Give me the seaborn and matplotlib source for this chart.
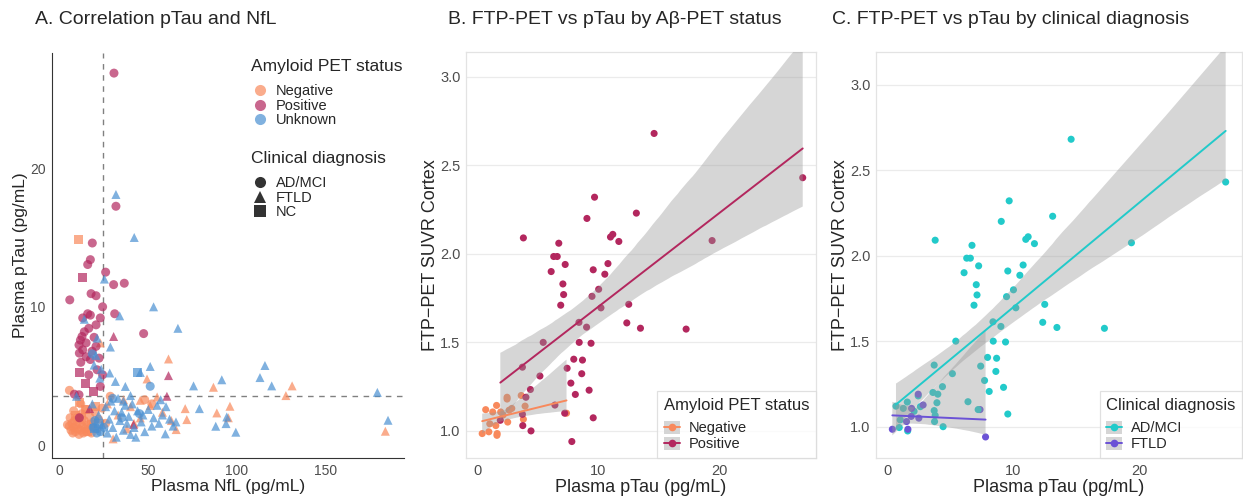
import pandas as pd
import matplotlib
matplotlib.use("Agg")
import matplotlib.pyplot as plt
import seaborn as sns
from matplotlib.lines import Line2D
from matplotlib.patches import Patch

# ---------------- Panel A : NfL vs pTau ----------------
# Negative amyloid
neg_ad_nfl = [5.5, 6.5, 7.0, 7.5, 8.0, 8.5, 9.0, 9.5, 10.0, 10.5, 11.0, 11.5, 12.0, 12.5, 13.0, 13.5, 14.0, 14.5, 15.0, 15.5,
              16.0, 17.0, 17.5, 18.0, 19.0, 20.0, 21.0, 22.0, 6.0, 4.5, 8.0, 5.6, 28.6, 12.0, 26.0, 48.0, 52.0, 24.0]
neg_ad_ptau = [1.4, 1.1, 1.6, 0.9, 1.3, 1.8, 1.0, 1.5, 2.0, 1.2, 0.8, 1.6, 1.1, 2.3, 1.4, 0.9, 1.8, 1.2, 2.6, 1.0,
               1.5, 2.1, 1.3, 0.9, 1.7, 2.4, 1.2, 1.9, 2.0, 1.5, 2.5, 3.98, 3.55, 3.0, 1.6, 3.3, 3.0, 2.7]
neg_ftld_nfl = [61.4, 86.7, 131.0, 127.5, 96.0, 88.6, 95.1, 183.5, 65.7, 70.8, 71.7, 49.3, 45.5, 51.1, 45.5, 30.2, 36.1,
                23.0, 27.0, 33.0, 40.0, 42.0, 55.0, 58.0, 63.0, 38.0]
neg_ftld_ptau = [6.24, 4.2, 4.3, 3.6, 2.83, 2.35, 2.0, 1.03, 1.15, 2.66, 1.87, 4.8, 3.26, 2.88, 1.99, 0.48, 3.3,
                 7.4, 3.0, 2.2, 2.8, 1.6, 3.5, 2.4, 1.8, 1.2]
neg_nc_nfl = [11.0, 11.2, 14.6, 12.5, 16.0, 18.0, 9.0, 20.5]
neg_nc_ptau = [14.85, 3.07, 2.6, 2.0, 1.0, 1.5, 2.2, 2.8]

# Positive amyloid
pos_ad_nfl = [30.7, 31.8, 18.5, 17.4, 15.9, 26.0, 30.5, 36.5, 5.8, 17.8, 20.6, 24.3, 31.1, 15.9, 17.4, 23.0, 13.1, 20.6,
              16.5, 47.4, 12.7, 11.8, 15.0, 20.6, 11.0, 13.1, 18.4, 15.0, 17.4, 22.3, 11.2, 21.2, 24.3, 23.0, 11.0, 11.2,
              8.4, 16.5, 14.0, 19.5, 12.0]
pos_ad_ptau = [26.85, 17.25, 14.6, 13.4, 13.05, 12.5, 11.6, 11.7, 10.5, 10.95, 10.8, 10.0, 9.5, 9.5, 9.4, 9.2, 9.2, 8.7,
               8.45, 8.07, 7.86, 7.6, 7.4, 7.15, 7.25, 6.9, 6.8, 6.4, 6.2, 6.3, 6.66, 5.46, 5.1, 4.26, 3.66, 2.0,
               3.7, 5.1, 8.2, 7.8, 6.0]
pos_nc_nfl = [12.7, 11.4, 14.6, 18.9]
pos_nc_ptau = [12.1, 5.3, 4.5, 3.86]
pos_ftld_nfl = [30.5, 61.4, 60.5, 41.7, 17.0]
pos_ftld_ptau = [7.86, 5.04, 3.55, 1.51, 2.66]

# Unknown amyloid
unk_ftld_nfl = [31.8, 42.1, 25.3, 53.0, 33.9, 66.7, 28.7, 21.2, 14.0, 51.1, 45.5, 75.5, 91.4, 112.9, 115.7, 119.5, 179.0,
                185.0, 31.5, 37.1, 9.6, 22.7, 28.3, 78.8, 88.0, 93.8, 94.2, 99.3, 59.6, 65.6, 20.5, 19.5, 23.5, 18.5,
                22, 24, 26, 27, 28, 29, 30, 31, 32, 33, 34, 35, 36, 37, 38, 39, 40, 41, 42, 43, 44, 46, 47, 48, 50, 52,
                53, 55, 56, 57, 58, 60, 62, 64, 40, 36]
unk_ftld_ptau = [18.1, 15.0, 12.0, 10.0, 9.35, 8.45, 7.1, 7.74, 9.1, 5.7, 5.27, 4.3, 4.74, 4.9, 5.77, 4.3, 3.83,
                 1.82, 4.62, 4.26, 3.55, 4.86, 5.23, 2.66, 1.39, 1.58, 2.06, 0.96, 0.84, 1.7, 6.5, 5.8, 5.5, 3.0,
                 2.2, 1.5, 2.8, 0.9, 1.9, 3.2, 1.3, 2.5, 0.6, 3.4, 1.8, 2.4, 1.1, 2.9, 1.6, 2.1, 0.8, 3.0, 1.3, 0.6,
                 2.5, 1.7, 2.2, 1.0, 2.6, 1.4, 2.0, 2.9, 1.6, 3.3, 2.2, 2.8, 1.9, 1.4, 3.6, 3.2]
unk_ad_nfl = [51.1, 19.0, 21.0, 20.0, 23.0, 25.0, 30.0, 35.0, 45.0, 18.5]
unk_ad_ptau = [4.27, 1.3, 0.9, 1.8, 1.0, 1.3, 3.4, 2.0, 2.3, 6.6]
unk_nc_nfl = [43.7, 20.0, 22.0]
unk_nc_ptau = [5.3, 1.2, 1.6]

# cut-offs (dashed lines)
nfl_cut = 24.5
ptau_cut = 3.6

# ---------------- Panels B / C : pTau vs FTP-PET ----------------
pos_ad_ptau_b = [14.6, 26.9, 19.4, 9.67, 9.04, 13.13, 3.78, 6.71, 6.29, 6.58, 6.08, 7.24, 7.05, 7.11, 6.87, 9.56, 10.78,
                 10.52, 10.99, 11.18, 11.68, 10.01, 9.46, 10.20, 12.50, 12.34, 13.47, 17.25, 8.38, 9.01, 5.42, 8.40,
                 9.38, 7.95, 8.67, 7.40, 8.61, 7.71, 8.08, 9.22, 9.56, 3.70, 5.15, 4.36, 3.99, 6.39, 3.70, 3.73, 4.41, 7.20]
pos_ad_ftp = [2.68, 2.43, 2.075, 2.32, 2.20, 2.23, 2.09, 2.06, 1.985, 1.985, 1.90, 1.94, 1.83, 1.77, 1.71, 1.91, 1.945,
              1.885, 2.095, 2.11, 2.07, 1.80, 1.76, 1.695, 1.715, 1.61, 1.58, 1.575, 1.613, 1.586, 1.50, 1.50,
              1.495, 1.405, 1.40, 1.354, 1.323, 1.27, 1.206, 1.23, 1.074, 1.36, 1.31, 1.234, 1.19, 1.146, 1.094, 1.03, 1.00, 1.10]
neg_ad_ptau_b = [0.66, 0.92, 1.0, 1.24, 1.56, 2.43, 3.6, 3.92, 3.78, 2.1, 2.6, 1.59]
neg_ad_ftp = [1.12, 0.995, 1.04, 1.107, 1.144, 1.18, 1.20, 1.14, 1.066, 1.09, 1.117, 0.975]
neg_ftld_ptau_b = [0.37, 1.61, 1.9, 2.43, 2.82, 1.5, 2.48, 7.35]
neg_ftld_ftp = [0.985, 0.985, 1.107, 1.19, 1.127, 1.03, 1.05, 1.10]
pos_ftld_ptau_b = [1.87, 7.79]
pos_ftld_ftp = [1.06, 0.94]

amy_colors = {"Negative": "#F8895C", "Positive": "#B3275E", "Unknown": "#4A90D2"}
dx_colors = {"AD/MCI": "#22CACA", "FTLD": "#6B52D6"}
dx_markers = {"AD/MCI": "o", "FTLD": "^", "NC": "s"}


def grupo(x, y, amy, dx, xn, yn):
    return pd.DataFrame({xn: x, yn: y, "amyloid": amy, "dx": dx})


df_a = pd.concat([
    grupo(neg_ad_nfl, neg_ad_ptau, "Negative", "AD/MCI", "nfl", "ptau"),
    grupo(neg_ftld_nfl, neg_ftld_ptau, "Negative", "FTLD", "nfl", "ptau"),
    grupo(neg_nc_nfl, neg_nc_ptau, "Negative", "NC", "nfl", "ptau"),
    grupo(pos_ad_nfl, pos_ad_ptau, "Positive", "AD/MCI", "nfl", "ptau"),
    grupo(pos_nc_nfl, pos_nc_ptau, "Positive", "NC", "nfl", "ptau"),
    grupo(pos_ftld_nfl, pos_ftld_ptau, "Positive", "FTLD", "nfl", "ptau"),
    grupo(unk_ftld_nfl, unk_ftld_ptau, "Unknown", "FTLD", "nfl", "ptau"),
    grupo(unk_ad_nfl, unk_ad_ptau, "Unknown", "AD/MCI", "nfl", "ptau"),
    grupo(unk_nc_nfl, unk_nc_ptau, "Unknown", "NC", "nfl", "ptau"),
], ignore_index=True)

df_b = pd.concat([
    grupo(neg_ad_ptau_b, neg_ad_ftp, "Negative", "AD/MCI", "ptau", "ftp"),
    grupo(neg_ftld_ptau_b, neg_ftld_ftp, "Negative", "FTLD", "ptau", "ftp"),
    grupo(pos_ad_ptau_b, pos_ad_ftp, "Positive", "AD/MCI", "ptau", "ftp"),
    grupo(pos_ftld_ptau_b, pos_ftld_ftp, "Positive", "FTLD", "ptau", "ftp"),
], ignore_index=True)

sns.set_style("white")
plt.rcParams["font.family"] = ["Liberation Sans", "DejaVu Sans"]

W, H = 1243, 496
fig = plt.figure(figsize=(W / 100, H / 100), dpi=100)


def box(l, t, r, b):
    return [l / W, 1 - b / H, (r - l) / W, (b - t) / H]


axA = fig.add_axes(box(52, 53, 404, 458))
axB = fig.add_axes(box(466, 52, 816, 458))
axC = fig.add_axes(box(876, 52, 1242, 458))

tick_col = "#4D4D4D"

# ---- A ----
sns.scatterplot(data=df_a, x="nfl", y="ptau", hue="amyloid", style="dx", palette=amy_colors,
                markers=dx_markers, s=42, alpha=0.7, linewidth=0, legend=False, ax=axA)
axA.axvline(nfl_cut, color="#808080", lw=1, ls=(0, (4, 4)), zorder=0)
axA.axhline(ptau_cut, color="#808080", lw=1, ls=(0, (4, 4)), zorder=0)
axA.set_xlim(-4.2, 194)
axA.set_ylim(-0.9, 28.3)
axA.set_xticks([0, 50, 100, 150])
axA.set_yticks([0, 10, 20])
for s in ["top", "right"]:
    axA.spines[s].set_visible(False)
for s in ["left", "bottom"]:
    axA.spines[s].set_color("#333333")
    axA.spines[s].set_linewidth(0.8)
axA.tick_params(length=3, width=0.8, color="#333333", labelsize=10, labelcolor=tick_col, pad=1.5)
axA.set_xlabel("Plasma NfL (pg/mL)", fontsize=12.5)
axA.set_ylabel("Plasma pTau (pg/mL)", fontsize=12.5)
axA.xaxis.set_label_coords(0.5, -0.052)
axA.yaxis.set_label_coords(-0.068, 0.5)

h_amy = [Line2D([], [], ls="", marker="o", markersize=8, mew=0, color=amy_colors[k], alpha=0.7)
         for k in ["Negative", "Positive", "Unknown"]]
leg1 = axA.legend(h_amy, ["Negative", "Positive", "Unknown"], title="Amyloid PET status",
                  loc="upper left", bbox_to_anchor=(244 / W, 1 - 52 / H), bbox_transform=fig.transFigure,
                  frameon=False, fontsize=10.5, title_fontsize=12.5, labelspacing=0.05, handletextpad=0.5,
                  handlelength=1.2, alignment="left", borderpad=0)
leg1._legend_box.sep = 7
axA.add_artist(leg1)
h_dx = [Line2D([], [], ls="", marker=dx_markers[k], markersize=8, mew=0, color="#333333")
        for k in ["AD/MCI", "FTLD", "NC"]]
leg2 = axA.legend(h_dx, ["AD/MCI", "FTLD", "NC"], title="Clinical diagnosis",
                  loc="upper left", bbox_to_anchor=(244 / W, 1 - 144 / H), bbox_transform=fig.transFigure,
                  frameon=False, fontsize=10.5, title_fontsize=12.5, labelspacing=0.05, handletextpad=0.5,
                  handlelength=1.2, alignment="left", borderpad=0)
leg2._legend_box.sep = 7


# ---- B and C ----
def panel(ax, hue, colors, order, title):
    sns.scatterplot(data=df_b, x="ptau", y="ftp", hue=hue, palette=colors, s=26, linewidth=0,
                    legend=False, ax=ax, zorder=2)
    for g in order:
        sub = df_b[df_b[hue] == g]
        n0 = len(ax.collections)
        sns.regplot(data=sub, x="ptau", y="ftp", scatter=False, color=colors[g], ci=95, n_boot=2000,
                    seed=3, line_kws={"lw": 1.4, "zorder": 4}, ax=ax)
        for c in ax.collections[n0:]:
            c.set_facecolor("#999999")
            c.set_edgecolor("none")
            c.set_alpha(0.4)
            c.set_zorder(3)
    ax.set_xticks([0, 10, 20])
    ax.set_yticks([1.0, 1.5, 2.0, 2.5, 3.0])
    ax.set_yticklabels(["1.0", "1.5", "2.0", "2.5", "3.0"])
    ax.grid(axis="y", color="#EBEBEB", lw=0.9)
    ax.grid(axis="x", visible=False)
    ax.set_axisbelow(True)
    for s in ax.spines.values():
        s.set_color("#E3E3E3")
        s.set_linewidth(0.9)
    ax.tick_params(length=0, labelsize=10.5, labelcolor=tick_col, pad=4)
    ax.set_xlabel("Plasma pTau (pg/mL)", fontsize=13)
    ax.set_ylabel("FTP\u2212PET SUVR Cortex", fontsize=13)
    ax.xaxis.set_label_coords(0.5, -0.052)
    hs = [(Patch(facecolor="#D5D5D5", edgecolor="none"),
           Line2D([], [], color=colors[g], lw=1.4, marker="o", markersize=5.5, mew=0)) for g in order]
    leg = ax.legend(hs, order, title=title, loc="lower right", bbox_to_anchor=(1, 0), borderaxespad=0,
                    frameon=True, fancybox=False, fontsize=10.5, title_fontsize=12, labelspacing=0.1,
                    handlelength=1.1, handleheight=1.0, handletextpad=0.6, alignment="left", borderpad=0.45)
    leg._legend_box.sep = 6
    leg.get_frame().set_edgecolor("#D9D9D9")
    leg.get_frame().set_linewidth(0.9)


panel(axB, "amyloid", amy_colors, ["Negative", "Positive"], "Amyloid PET status")
axB.set_xlim(-0.97, 28.0)
axB.set_ylim(0.847, 3.14)
axB.yaxis.set_label_coords(-0.077, 0.5)

panel(axC, "dx", dx_colors, ["AD/MCI", "FTLD"], "Clinical diagnosis")
axC.set_xlim(-0.93, 28.2)
axC.set_ylim(0.817, 3.19)
axC.yaxis.set_label_coords(-0.074, 0.5)

fig.text(35 / W, 1 - 19 / H, "A. Correlation pTau and NfL", fontsize=14, ha="left", va="center")
fig.text(448 / W, 1 - 19 / H, "B. FTP-PET vs pTau by A\u03b2-PET status", fontsize=14, ha="left", va="center")
fig.text(832 / W, 1 - 19 / H, "C. FTP-PET vs pTau by clinical diagnosis", fontsize=14, ha="left", va="center")

fig.savefig("out.png", dpi=100)
